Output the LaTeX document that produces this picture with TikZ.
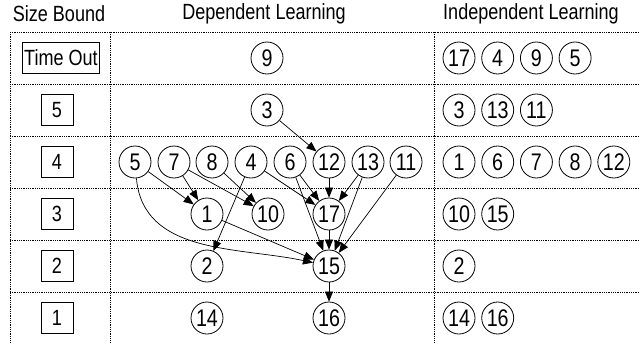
\documentclass[tikz,border=0pt]{standalone}
\usepackage{fontspec}
\setmainfont[FakeStretch=0.82]{Liberation Sans}
\usetikzlibrary{arrows.meta}

\begin{document}
\begin{tikzpicture}[x=1pt,y=-1pt,
	circ/.style={draw,circle,line width=0.8pt,minimum size=32pt,inner sep=0pt,font=\fontsize{24}{26}\selectfont},
	cota/.style={draw,rectangle,line width=0.8pt,minimum width=32pt,minimum height=31pt,inner xsep=2pt,font=\fontsize{22}{24}\selectfont},
	rejilla/.style={densely dotted,line width=0.8pt},
	flecha/.style={-{Triangle[length=10pt,width=8pt]},line width=0.7pt}]
	\useasboundingbox (0,0) rectangle (640,343);
	\foreach \y in {32,84,136,188,240,292} \draw[rejilla] (10,\y) -- (640,\y); %filas
	\foreach \x in {10,110,434} \draw[rejilla] (\x,32) -- (\x,343); %columnas
	\node[font=\fontsize{22}{24}\selectfont] (hsb) at (59,14) {Size Bound}; %encabezados
	\node[font=\fontsize{22}{24}\selectfont] (hdl) at (264,14) {Dependent Learning};
	\node[font=\fontsize{22}{24}\selectfont] (hil) at (531,14) {Independent Learning};
	\node[cota] (ctout) at (61,58) {Time Out}; %cotas
	\node[cota] (c5) at (57,110) {5};
	\node[cota] (c4) at (57,162) {4};
	\node[cota] (c3) at (57,214) {3};
	\node[cota] (c2) at (57,266) {2};
	\node[cota] (c1) at (57,318) {1};
	\node[circ] (d9) at (267,58) {9}; %aprendizaje dependiente
	\node[circ] (d3) at (267,110) {3};
	\node[circ] (d5) at (135,162) {5};
	\node[circ] (d7) at (174,162) {7};
	\node[circ] (d8) at (212,162) {8};
	\node[circ] (d4) at (251,162) {4};
	\node[circ] (d6) at (290,162) {6};
	\node[circ] (d12) at (329,162) {12};
	\node[circ] (d13) at (368,162) {13};
	\node[circ] (d11) at (406,162) {11};
	\node[circ] (d1) at (207,214) {1};
	\node[circ] (d10) at (268,214) {10};
	\node[circ] (d17) at (329,214) {17};
	\node[circ] (d2) at (207,266) {2};
	\node[circ] (d15) at (329,266) {15};
	\node[circ] (d14) at (207,318) {14};
	\node[circ] (d16) at (329,318) {16};
	\draw[flecha] (d3) -- (d12); %dependencias
	\draw[flecha] (d5) -- (d1);
	\draw[flecha] (d5) to[out=-85,in=168] (d15);
	\draw[flecha] (d7) -- (d1);
	\draw[flecha] (d7) -- (d10);
	\draw[flecha] (d8) -- (d10);
	\draw[flecha] (d4) -- (d2);
	\draw[flecha] (d4) -- (d17);
	\draw[flecha] (d6) -- (d17);
	\draw[flecha] (d6) -- (d15);
	\draw[flecha] (d12) -- (d17);
	\draw[flecha] (d13) -- (d17);
	\draw[flecha] (d13) -- (d15);
	\draw[flecha] (d11) -- (d15);
	\draw[flecha] (d1) -- (d15);
	\draw[flecha] (d17) -- (d15);
	\draw[flecha] (d15) -- (d16);
	\foreach \lab [count=\i] in {17,4,9,5} \node[circ] (ia\i) at ({459+38.7*(\i-1)},58) {\lab}; %aprendizaje independiente
	\foreach \lab [count=\i] in {3,13,11} \node[circ] (ib\i) at ({459+38.7*(\i-1)},110) {\lab};
	\foreach \lab [count=\i] in {1,6,7,8,12} \node[circ] (ic\i) at ({459+38.7*(\i-1)},162) {\lab};
	\foreach \lab [count=\i] in {10,15} \node[circ] (id\i) at ({459+38.7*(\i-1)},214) {\lab};
	\node[circ] (ie1) at (459,266) {2};
	\foreach \lab [count=\i] in {14,16} \node[circ] (if\i) at ({459+38.7*(\i-1)},318) {\lab};
\end{tikzpicture}
\end{document}
